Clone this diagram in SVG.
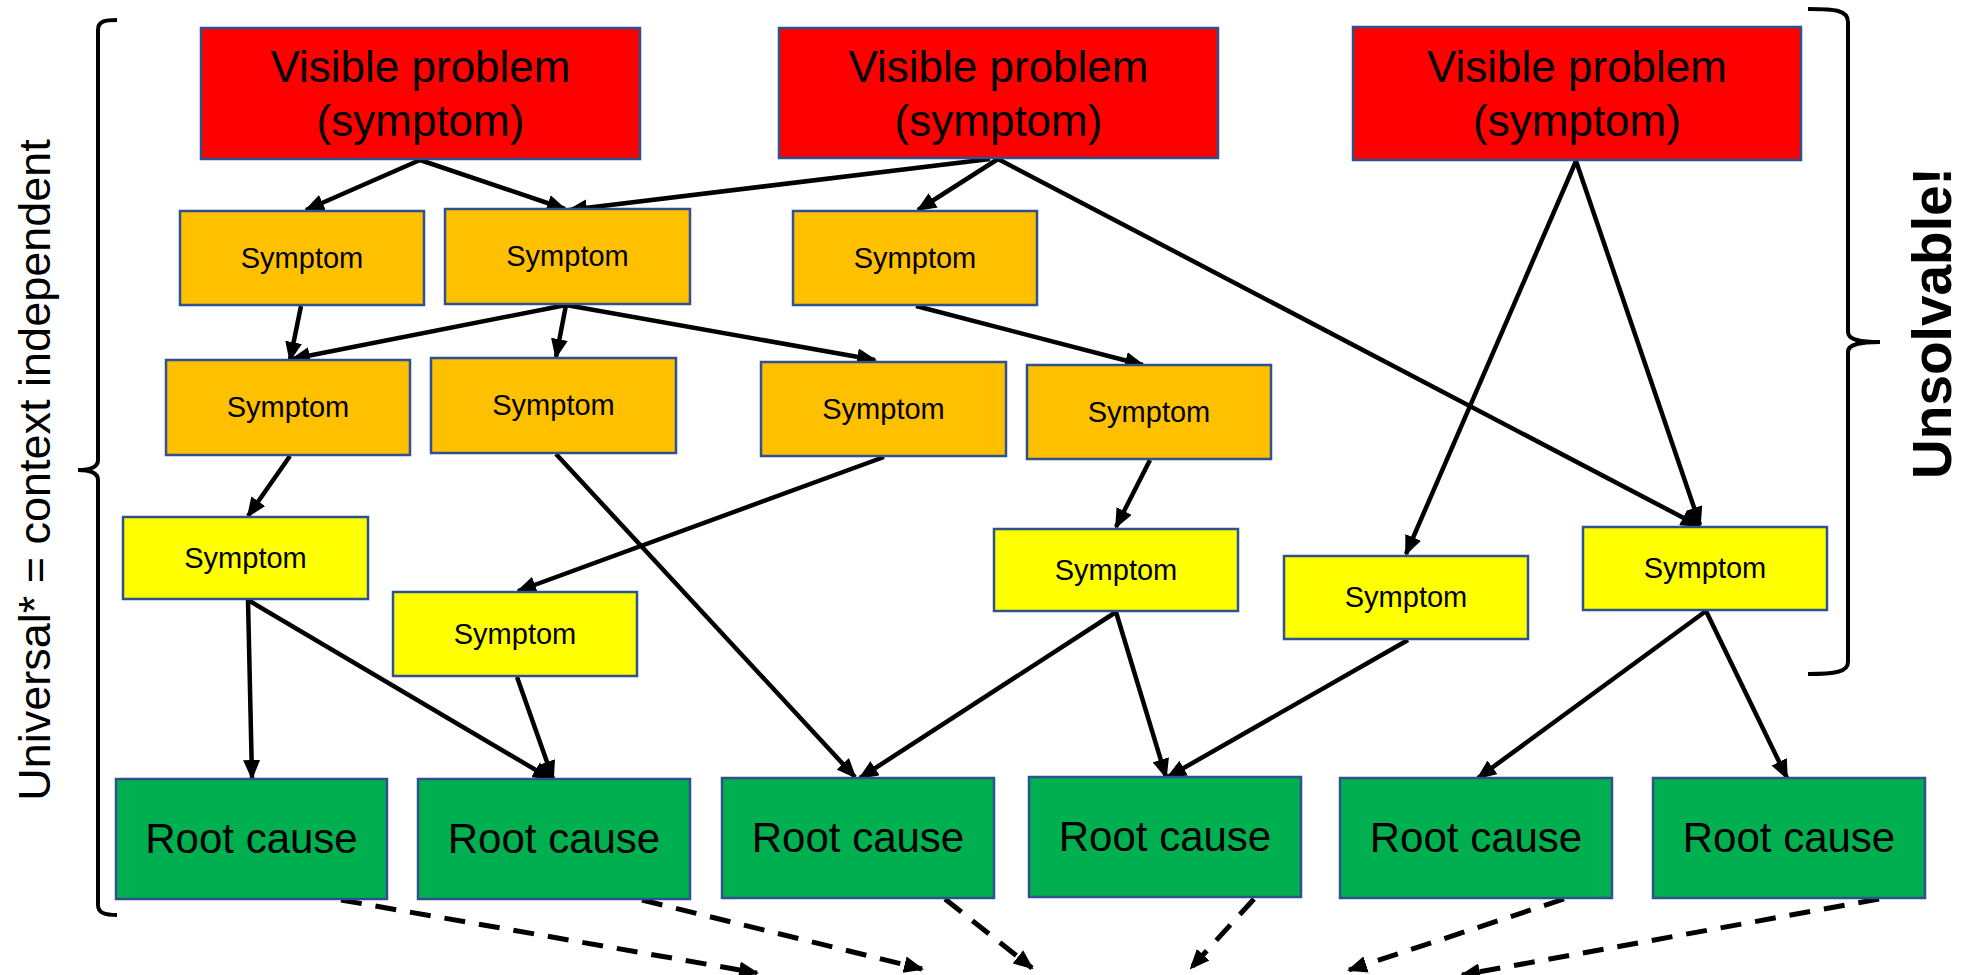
<svg xmlns="http://www.w3.org/2000/svg" width="1965" height="975" viewBox="0 0 1965 975">
<style>
  .box { stroke: #2F528F; stroke-width: 2.5; }
  .red { fill: #FF0000; }
  .org { fill: #FFC000; }
  .yel { fill: #FFFF00; }
  .grn { fill: #00B050; }
  .t { font-family: "Liberation Sans", Arial, sans-serif; fill: #000; text-anchor: middle; }
  .big { font-size: 44px; }
  .sym { font-size: 29px; }
  .root { font-size: 42px; }
  .edge { fill: none; stroke: #000; stroke-width: 4.5; marker-end: url(#ah); }
  .dash { fill: none; stroke: #000; stroke-width: 5; stroke-dasharray: 21 14; marker-end: url(#ah); }
  .brace { fill: none; stroke: #000; stroke-width: 4; }
</style>
<defs>
  <marker id="ah" viewBox="0 0 20 17" refX="18" refY="8.5" markerWidth="20" markerHeight="17" markerUnits="userSpaceOnUse" orient="auto">
    <path d="M0,0 L20,8.5 L0,17 z" fill="#000"/>
  </marker>
</defs>
<rect width="1965" height="975" fill="#fff"/>

<g id="connectors">
  <line class="edge" x1="420" y1="160" x2="306" y2="210"/>
  <line class="edge" x1="420" y1="160" x2="565" y2="209"/>
  <line class="edge" x1="990" y1="159" x2="569" y2="210"/>
  <line class="edge" x1="998" y1="159" x2="918" y2="210"/>
  <line class="edge" x1="998" y1="159" x2="1699" y2="526"/>
  <line class="edge" x1="1576" y1="161" x2="1406" y2="554"/>
  <line class="edge" x1="1576" y1="161" x2="1700" y2="525"/>
  <line class="edge" x1="301" y1="306" x2="290" y2="360"/>
  <line class="edge" x1="566" y1="305" x2="292" y2="359"/>
  <line class="edge" x1="566" y1="305" x2="556" y2="357"/>
  <line class="edge" x1="566" y1="305" x2="875" y2="360"/>
  <line class="edge" x1="916" y1="306" x2="1143" y2="365"/>
  <line class="edge" x1="290" y1="456" x2="248" y2="516"/>
  <line class="edge" x1="556" y1="454" x2="855" y2="777"/>
  <line class="edge" x1="884" y1="457" x2="518" y2="591"/>
  <line class="edge" x1="1150" y1="460" x2="1116" y2="527"/>
  <line class="edge" x1="248" y1="600" x2="252" y2="778"/>
  <line class="edge" x1="248" y1="600" x2="551" y2="779"/>
  <line class="edge" x1="517" y1="677" x2="553" y2="779"/>
  <line class="edge" x1="1116" y1="612" x2="860" y2="778"/>
  <line class="edge" x1="1116" y1="612" x2="1166" y2="777"/>
  <line class="edge" x1="1408" y1="640" x2="1168" y2="777"/>
  <line class="edge" x1="1706" y1="611" x2="1478" y2="778"/>
  <line class="edge" x1="1706" y1="611" x2="1787" y2="778"/>
  <line class="dash" x1="341" y1="900" x2="757" y2="973"/>
  <line class="dash" x1="642" y1="900" x2="922" y2="969"/>
  <line class="dash" x1="945" y1="899" x2="1032" y2="968"/>
  <line class="dash" x1="1254" y1="899" x2="1191" y2="968"/>
  <line class="dash" x1="1564" y1="899" x2="1349" y2="970"/>
  <line class="dash" x1="1879" y1="899" x2="1462" y2="975"/>
</g>

<g id="r1"><rect class="box red" x="201" y="28" width="439" height="131"/><text class="t big" x="420.5" y="82">Visible problem</text><text class="t big" x="420.5" y="136">(symptom)</text></g>
<g id="r2"><rect class="box red" x="779" y="28" width="439" height="130"/><text class="t big" x="998.5" y="82">Visible problem</text><text class="t big" x="998.5" y="136">(symptom)</text></g>
<g id="r3"><rect class="box red" x="1353" y="27" width="448" height="133"/><text class="t big" x="1577" y="82">Visible problem</text><text class="t big" x="1577" y="136">(symptom)</text></g>

<g id="o1"><rect class="box org" x="180" y="211" width="244" height="94"/><text class="t sym" x="302" y="268">Symptom</text></g>
<g id="o2"><rect class="box org" x="445" y="209" width="245" height="95"/><text class="t sym" x="567.5" y="266">Symptom</text></g>
<g id="o3"><rect class="box org" x="793" y="211" width="244" height="94"/><text class="t sym" x="915" y="268">Symptom</text></g>
<g id="o4"><rect class="box org" x="166" y="360" width="244" height="95"/><text class="t sym" x="288" y="417">Symptom</text></g>
<g id="o5"><rect class="box org" x="431" y="358" width="245" height="95"/><text class="t sym" x="553.5" y="415">Symptom</text></g>
<g id="o6"><rect class="box org" x="761" y="362" width="245" height="94"/><text class="t sym" x="883.5" y="419">Symptom</text></g>
<g id="o7"><rect class="box org" x="1027" y="365" width="244" height="94"/><text class="t sym" x="1149" y="422">Symptom</text></g>

<g id="y1"><rect class="box yel" x="123" y="517" width="245" height="82"/><text class="t sym" x="245.5" y="568">Symptom</text></g>
<g id="y2"><rect class="box yel" x="393" y="592" width="244" height="84"/><text class="t sym" x="515" y="644">Symptom</text></g>
<g id="y3"><rect class="box yel" x="994" y="529" width="244" height="82"/><text class="t sym" x="1116" y="580">Symptom</text></g>
<g id="y4"><rect class="box yel" x="1284" y="556" width="244" height="83"/><text class="t sym" x="1406" y="607">Symptom</text></g>
<g id="y5"><rect class="box yel" x="1583" y="527" width="244" height="83"/><text class="t sym" x="1705" y="578">Symptom</text></g>

<g id="g1"><rect class="box grn" x="116" y="779" width="271" height="120"/><text class="t root" x="251.5" y="853">Root cause</text></g>
<g id="g2"><rect class="box grn" x="418" y="779" width="272" height="120"/><text class="t root" x="554" y="853">Root cause</text></g>
<g id="g3"><rect class="box grn" x="722" y="778" width="272" height="120"/><text class="t root" x="858" y="852">Root cause</text></g>
<g id="g4"><rect class="box grn" x="1029" y="777" width="272" height="120"/><text class="t root" x="1165" y="851">Root cause</text></g>
<g id="g5"><rect class="box grn" x="1340" y="778" width="272" height="120"/><text class="t root" x="1476" y="852">Root cause</text></g>
<g id="g6"><rect class="box grn" x="1653" y="778" width="272" height="120"/><text class="t root" x="1789" y="852">Root cause</text></g>

<g id="left-brace">
  <path class="brace" d="M117,20 C105,20 98,21 98,30 L98,460 C98,467 90,470 78,470 C90,470 98,473 98,480 L98,905 C98,913 105,915 117,915"/>
  <text class="t" font-size="45" transform="translate(50,470) rotate(-90)">Universal* = context independent</text>
</g>
<g id="right-brace">
  <path class="brace" d="M1808,9 C1835,9 1848,10 1848,22 L1848,332 C1848,340 1860,342 1880,342 C1860,342 1848,344 1848,352 L1848,662 C1848,672 1835,674 1808,674"/>
  <text class="t" font-size="55" font-weight="bold" transform="translate(1951,323) rotate(-90)">Unsolvable!</text>
</g>
</svg>
